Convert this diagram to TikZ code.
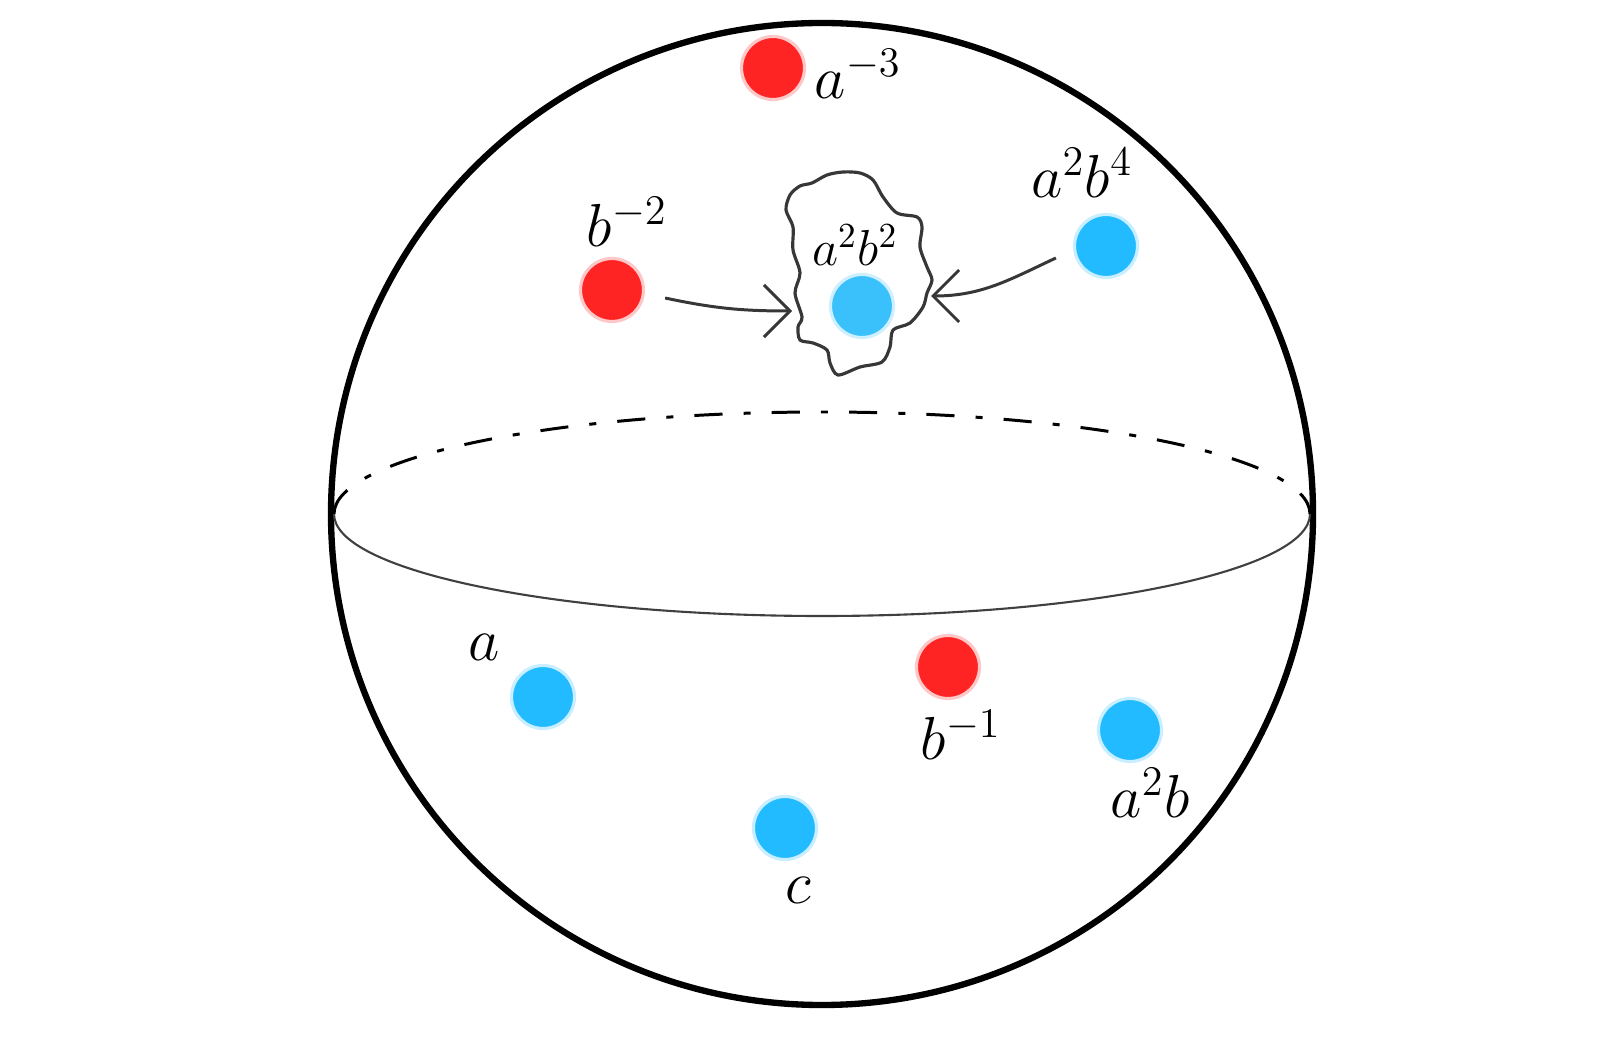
\documentclass[tikz,border=0pt]{standalone}
\usepackage{amsmath}
\usetikzlibrary{arrows.meta,positioning,calc}

\definecolor{dotred}{RGB}{255,36,36}
\definecolor{dotblue}{RGB}{34,187,255}
\definecolor{dotlight}{RGB}{58,192,250}
\definecolor{pencil}{RGB}{55,55,55}

\tikzset{
    dot/.style={circle, inner sep=0pt, minimum size=0.63cm, line width=0.9pt},
    reddot/.style={dot, fill=dotred, draw=dotred!25},
    bluedot/.style={dot, fill=dotblue, draw=dotblue!25},
    lbl/.style={font=\fontsize{16.5}{20}\selectfont, inner sep=0pt},
    pull/.style={-{Straight Barb[length=2.6mm,width=5.2mm]}, pencil, line width=0.85pt}
}

\begin{document}
\begin{tikzpicture}[x=0.01cm, y=-0.01cm]
\useasboundingbox (0,0) rectangle (1600,1037);

% Sphere and equator
\draw[line width=1.8pt] (822,514) circle[radius=491];
\draw[line width=0.6pt, black!75] (334,514) arc[start angle=180, end angle=0, x radius=488, y radius=102];
\draw[line width=0.85pt, dash pattern=on 8pt off 6pt on 2pt off 6pt]
    (334,514) arc[start angle=180, end angle=360, x radius=488, y radius=102];

% Upper hemisphere
\node[reddot] (am3) at (773,68) {};
\node[lbl] (am3l) at (858,74) {$a^{-3}$};

\node[reddot] (bm2) at (612,290) {};
\node[lbl] (bm2l) at (627,222) {$b^{-2}$};

\node[bluedot] (a2b4) at (1106,246) {};
\node[lbl] (a2b4l) at (1082,173) {$a^{2}b^{4}$};

% Hand drawn blob round a^2b^2
\draw[pencil, line width=0.9pt] plot[smooth cycle, tension=0.5] coordinates {
    (812,183) (827,175) (843,172) (860,173) (873,180) (883,197) (897,213)
    (917,217) (922,227) (920,247) (927,267) (932,280) (927,293) (923,307)
    (910,323) (893,330) (890,347) (882,362) (860,367) (838,375) (830,363)
    (827,350) (813,343) (800,340) (798,327) (802,317) (795,293) (800,273)
    (793,250) (793,227) (786,210) (790,195) (800,186)};
\node[dot, fill=dotlight, draw=dotlight!25] (a2b2) at (862,306) {};
\node[lbl, font=\fontsize{14.5}{18}\selectfont] (a2b2l) at (855,245) {$a^{2}b^{2}$};

\coordinate (blobW) at (792,311);
\coordinate (blobE) at (931,296);
\draw[pull] ($(bm2.east)+(20,8)$) to[out=-12, in=180] (blobW);
\draw[pull] ($(a2b4.west)+(-17,12)$) to[out=205, in=0] (blobE);

% Lower hemisphere
\node[bluedot] (a) at (543,697) {};
\node[lbl] (al) at (484,647) {$a$};

\node[reddot] (bm1) at (948,667) {};
\node[lbl] (bm1l) at (961,735) {$b^{-1}$};

\node[bluedot] (a2b) at (1130,730) {};
\node[lbl] (a2bl) at (1150,793) {$a^{2}b$};

\node[bluedot] (c) at (785,828) {};
\node[lbl] (cl) at (798,890) {$c$};

\end{tikzpicture}
\end{document}
